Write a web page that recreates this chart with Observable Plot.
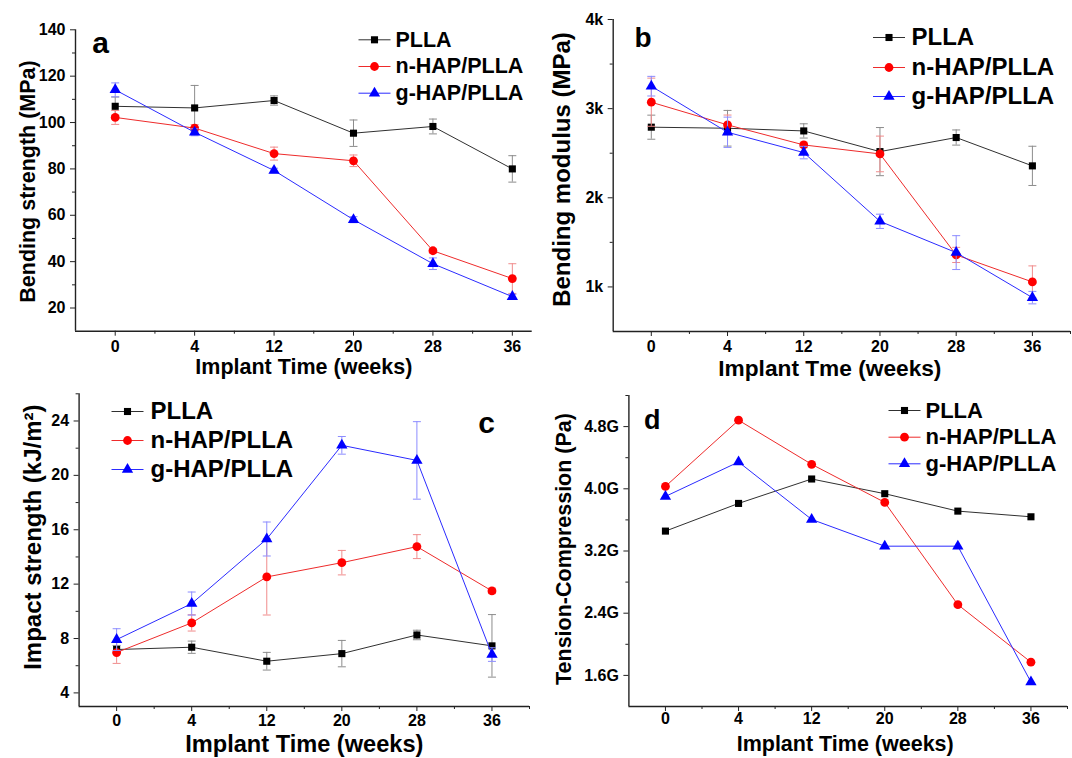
<!DOCTYPE html>
<html><head><meta charset="utf-8">
<script src="https://cdn.jsdelivr.net/npm/d3@7"></script>
<script src="https://cdn.jsdelivr.net/npm/@observablehq/plot@0.6"></script>
<style>
body{margin:0;background:#fff;}
#chart{position:relative;width:1072px;height:758px;background:#fff;overflow:hidden;}
#chart > svg{position:absolute;}
</style></head><body><div id="chart"></div>
<script>
// ---- categories ----
const weeks = ["0", "4", "12", "20", "28", "36"];
const seriesNames = ["PLLA", "n-HAP/PLLA", "g-HAP/PLLA"];

// ---- panel a: bending strength (MPa) ----
const strengthPLLA = [107.0, 106.3, 109.5, 95.4, 98.3, 80.0];
const strengthPLLAErr = [4.0, 9.7, 2.0, 5.7, 3.2, 5.7];
const strengthNHAP = [102.2, 97.6, 86.6, 83.5, 44.7, 32.7];
const strengthNHAPErr = [3.0, 1.5, 2.8, 2.5, 1.0, 6.4];
const strengthGHAP = [114.1, 95.8, 79.3, 58.1, 39.1, 24.9];
const strengthGHAPErr = [3.0, 1.5, 1.0, 1.3, 2.5, 1.0];

// ---- panel b: bending modulus (MPa) ----
const modulusPLLA = [2792, 2780, 2750, 2518, 2676, 2358];
const modulusPLLAErr = [135, 200, 80, 270, 85, 220];
const modulusNHAP = [3072, 2818, 2593, 2492, 1359, 1056];
const modulusNHAPErr = [270, 110, 30, 200, 85, 180];
const modulusGHAP = [3252, 2735, 2507, 1736, 1385, 880];
const modulusGHAPErr = [110, 170, 70, 80, 190, 70];

// ---- panel c: impact strength (kJ/m2) ----
const impactPLLA = [7.19, 7.36, 6.33, 6.89, 8.26, 7.46];
const impactPLLAErr = [0.3, 0.45, 0.65, 0.97, 0.35, 2.3];
const impactNHAP = [6.97, 9.15, 12.53, 13.58, 14.76, 11.5];
const impactNHAPErr = [0.8, 0.6, 2.8, 0.9, 0.88, 0.2];
const impactGHAP = [7.92, 10.57, 15.32, 22.21, 21.1, 6.82];
const impactGHAPErr = [0.8, 0.85, 1.25, 0.65, 2.85, 0.5];

// ---- panel d: tension-compression (GPa) ----
const tcPLLA = [3.456, 3.812, 4.126, 3.937, 3.713, 3.640];
const tcNHAP = [4.031, 4.882, 4.315, 3.825, 2.51, 1.77];
const tcGHAP = [3.902, 4.345, 3.606, 3.262, 3.262, 1.514];

// ---- axis ticks ----
const strengthTicks = [20, 40, 60, 80, 100, 120, 140];
const strengthMinor = [30, 50, 70, 90, 110, 130];
const modulusTicks = [1000, 2000, 3000, 4000];
const modulusTickLabels = ["1k", "2k", "3k", "4k"];
const modulusMinor = [1500, 2500, 3500];
const impactTicks = [4, 8, 12, 16, 20, 24];
const impactMinor = [6, 10, 14, 18, 22, 26];
const tcTicks = [1.6, 2.4, 3.2, 4.0, 4.8];
const tcTickLabels = ["1.6G", "2.4G", "3.2G", "4.0G", "4.8G"];
const tcMinor = [2.0, 2.8, 3.6, 4.4, 5.2];

// ---- styles ----
const markerColors = ["#000000", "#ff0000", "#0000ff"];
const lineColors = ["#303030", "#ee2b2b", "#2b2bff"];
const errColors = ["#8c8c8c", "#f08c8c", "#8c8cff"];
const markerSymbols = ["square", "circle", "triangle"];
const markerR = [4, 4.4, 4.2];
const FONT = "'Liberation Sans', Arial, Helvetica, sans-serif";

const hLine = {draw(ctx, size) { const r = Math.sqrt(size / Math.PI); ctx.moveTo(-r, 0); ctx.lineTo(r, 0); }};

function panel(cfg) {
  const rows = [];
  cfg.series.forEach((vals, s) => vals.forEach((v, i) =>
    rows.push({s, xi: i, v, e: cfg.errors ? cfg.errors[s][i] : null})));
  const idx = d3.range(weeks.length);
  const minorX = d3.range(weeks.length).map(i => i + 0.5).filter(x => x <= cfg.xDomain[1]);
  const marks = [
    Plot.axisX({ticks: idx, tickFormat: i => weeks[i], tickSize: 5, tickPadding: cfg.xTickPadding, fontSize: 16, fontWeight: "bold", stroke: "#222", label: null}),
    Plot.axisX({ticks: minorX, tickFormat: () => "", tickSize: 3, stroke: "#222", label: null}),
    Plot.axisY({ticks: cfg.yTicks, tickFormat: cfg.yFormat, tickSize: 5, tickPadding: 5, fontSize: 16, fontWeight: "bold", stroke: "#222", label: null}),
    Plot.axisY({ticks: cfg.yMinor, tickFormat: () => "", tickSize: 3, stroke: "#222", label: null}),
    Plot.ruleY([cfg.yDomain[0]], {stroke: "#222", strokeWidth: 1.4}),
    Plot.ruleX([cfg.xDomain[0]], {stroke: "#222", strokeWidth: 1.4})
  ];
  for (let s = 0; s < cfg.series.length; s++) {
    const sr = rows.filter(d => d.s === s);
    const er = sr.filter(d => d.e != null);
    if (er.length) {
      marks.push(Plot.ruleX(er, {x: "xi", y1: d => d.v - d.e, y2: d => d.v + d.e, stroke: errColors[s], strokeWidth: 1}));
      marks.push(Plot.dot(er, {x: "xi", y: d => d.v + d.e, symbol: hLine, r: 4, stroke: errColors[s], fill: "none", strokeWidth: 1}));
      marks.push(Plot.dot(er, {x: "xi", y: d => d.v - d.e, symbol: hLine, r: 4, stroke: errColors[s], fill: "none", strokeWidth: 1}));
    }
    marks.push(Plot.line(sr, {x: "xi", y: "v", stroke: lineColors[s], strokeWidth: 1}));
    marks.push(Plot.dot(sr, {x: "xi", y: "v", symbol: markerSymbols[s], r: markerR[s], fill: markerColors[s], stroke: "none"}));
  }
  // legend
  const lg = cfg.legend;
  for (let s = 0; s < seriesNames.length; s++) {
    marks.push(Plot.dot([0], {frameAnchor: "top-left", dx: lg.lineDx, dy: lg.dys[s], symbol: hLine, r: 16, stroke: lineColors[s], fill: "none", strokeWidth: 1}));
    marks.push(Plot.dot([0], {frameAnchor: "top-left", dx: lg.lineDx, dy: lg.dys[s], symbol: markerSymbols[s], r: markerR[s], fill: markerColors[s], stroke: "none"}));
    marks.push(Plot.text([seriesNames[s]], {frameAnchor: "top-left", dx: lg.textDx, dy: lg.dys[s], text: d => d, textAnchor: "start", lineAnchor: "middle", fontSize: lg.fontSize, fontWeight: "bold", fill: "#000"}));
  }
  // axis titles and panel letter
  marks.push(Plot.text([cfg.yLabel], {frameAnchor: "left", rotate: -90, dx: cfg.yLabelDx, dy: cfg.yLabelDy, text: d => d, textAnchor: "middle", lineAnchor: "middle", fontSize: cfg.yLabelSize, fontWeight: "bold", fill: "#000"}));
  marks.push(Plot.text([cfg.xLabel], {frameAnchor: "bottom", dx: cfg.xLabelDx, dy: cfg.xLabelDy, text: d => d, textAnchor: "middle", lineAnchor: "middle", fontSize: cfg.xLabelSize, fontWeight: "bold", fill: "#000"}));
  marks.push(Plot.text([cfg.letter], {frameAnchor: "top-left", dx: cfg.letterDx, dy: cfg.letterDy, text: d => d, textAnchor: "middle", lineAnchor: "middle", fontSize: cfg.letterSize, fontWeight: "bold", fill: "#000"}));

  const svg = Plot.plot({
    width: cfg.width, height: cfg.height,
    marginLeft: cfg.m[0], marginRight: cfg.m[1], marginTop: cfg.m[2], marginBottom: cfg.m[3],
    x: {type: "linear", domain: cfg.xDomain, label: null},
    y: {type: "linear", domain: cfg.yDomain, label: null},
    style: {fontFamily: FONT, fontWeight: "bold", fontSize: "16px", color: "#000", background: "transparent", overflow: "visible"},
    marks
  });
  svg.style.left = cfg.left + "px";
  svg.style.top = cfg.top + "px";
  return svg;
}

const chart = document.getElementById("chart");

chart.appendChild(panel({
  left: 0, top: 0, width: 536, height: 380, m: [75, 4.3, 29.3, 49.3],
  xDomain: [-0.5, 5.25], yDomain: [10, 140], xTickPadding: 4,
  yTicks: strengthTicks, yMinor: strengthMinor, yFormat: d => String(d),
  series: [strengthPLLA, strengthNHAP, strengthGHAP],
  errors: [strengthPLLAErr, strengthNHAPErr, strengthGHAPErr],
  yLabel: "Bending strength (MPa)", yLabelDx: -47.4, yLabelDy: 1, yLabelSize: 21.5,
  xLabel: "Implant Time (weeks)", xLabelDx: 0, xLabelDy: 36.3, xLabelSize: 21.5,
  letter: "a", letterDx: 25, letterDy: 14, letterSize: 30,
  legend: {lineDx: 299, textDx: 320, dys: [10, 36.7, 63.4], fontSize: 21.5}
}));

chart.appendChild(panel({
  left: 536, top: 0, width: 536, height: 380, m: [76.7, 2, 19, 49],
  xDomain: [-0.5, 5.5], yDomain: [500, 4000], xTickPadding: 4,
  yTicks: modulusTicks, yMinor: modulusMinor, yFormat: d => modulusTickLabels[modulusTicks.indexOf(d)],
  series: [modulusPLLA, modulusNHAP, modulusGHAP],
  errors: [modulusPLLAErr, modulusNHAPErr, modulusGHAPErr],
  yLabel: "Bending modulus (MPa)", yLabelDx: -50.7, yLabelDy: -6, yLabelSize: 24,
  xLabel: "Implant Tme (weeks)", xLabelDx: -12, xLabelDy: 37, xLabelSize: 22.7,
  letter: "b", letterDx: 29.8, letterDy: 18.7, letterSize: 28,
  legend: {lineDx: 275.8, textDx: 298.3, dys: [18, 48, 77], fontSize: 24}
}));

chart.appendChild(panel({
  left: 0, top: 380, width: 536, height: 378, m: [78.6, 7, 13.3, 52],
  xDomain: [-0.5, 5.5], yDomain: [3, 26], xTickPadding: 3,
  yTicks: impactTicks, yMinor: impactMinor, yFormat: d => String(d),
  series: [impactPLLA, impactNHAP, impactGHAP],
  errors: [impactPLLAErr, impactNHAPErr, impactGHAPErr],
  yLabel: "Impact strength (kJ/m²)", yLabelDx: -45.8, yLabelDy: -13, yLabelSize: 24,
  xLabel: "Implant Time (weeks)", xLabelDx: 0, xLabelDy: 38, xLabelSize: 23.6,
  letter: "c", letterDx: 407.4, letterDy: 29.1, letterSize: 30,
  legend: {lineDx: 48.4, textDx: 71.4, dys: [17.7, 46.7, 75.7], fontSize: 24}
}));

chart.appendChild(panel({
  left: 536, top: 380, width: 536, height: 378, m: [92.4, 5, 15, 52],
  xDomain: [-0.5, 5.5], yDomain: [1.2, 5.2], xTickPadding: 1,
  yTicks: tcTicks, yMinor: tcMinor, yFormat: d => tcTickLabels[tcTicks.indexOf(d)],
  series: [tcPLLA, tcNHAP, tcGHAP],
  errors: null,
  yLabel: "Tension-Compression (Pa)", yLabelDx: -64.8, yLabelDy: -2, yLabelSize: 21.5,
  xLabel: "Implant Time (weeks)", xLabelDx: -3, xLabelDy: 38, xLabelSize: 21.5,
  letter: "d", letterDx: 23.4, letterDy: 24.4, letterSize: 27,
  legend: {lineDx: 275.6, textDx: 296.6, dys: [15, 41.7, 68.3], fontSize: 22}
}));
</script></body></html>
